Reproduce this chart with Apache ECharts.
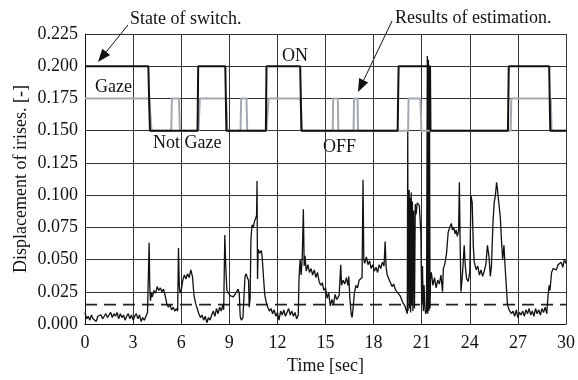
<!DOCTYPE html>
<html>
<head>
<meta charset="utf-8">
<script src="https://cdn.jsdelivr.net/npm/echarts@6/dist/echarts.min.js"></script>
<style>
html, body { margin: 0; padding: 0; background: #fff; }
#chart { width: 578px; height: 380px; }
</style>
</head>
<body>
<div id="chart"></div>
<script>
var chart = echarts.init(document.getElementById('chart'));

// state of the switch (ON = 0.200, OFF = 0.150)
var switchState = [
    [0, 0.2], [3.95, 0.2], [4.05, 0.15], [7.02, 0.15], [7.06, 0.2], [8.75, 0.2], [8.82, 0.15],
    [11.28, 0.15], [11.32, 0.2], [13.42, 0.2], [13.5, 0.15], [19.5, 0.15], [19.56, 0.2],
    [21.52, 0.2], [21.55, 0.15], [26.38, 0.15], [26.43, 0.2], [28.95, 0.2], [29.02, 0.15], [30, 0.15]
];

// results of estimation (Gaze = 0.175, Not Gaze = 0.150)
var estimation = [
    [0, 0.175], [4.0, 0.175], [4.15, 0.15], [5.38, 0.15], [5.42, 0.175], [5.86, 0.175], [5.92, 0.15],
    [7.08, 0.15], [7.16, 0.175], [8.8, 0.175], [8.88, 0.15], [9.7, 0.15], [9.74, 0.175],
    [10.07, 0.175], [10.12, 0.15], [11.32, 0.15], [11.45, 0.175], [13.45, 0.175], [13.52, 0.15],
    [15.45, 0.15], [15.48, 0.175], [15.77, 0.175], [15.8, 0.15], [16.75, 0.15], [16.78, 0.175],
    [17.0, 0.175], [17.03, 0.15], [20.15, 0.15], [20.18, 0.175], [20.92, 0.175], [20.98, 0.15],
    [26.55, 0.15], [26.59, 0.175], [29.05, 0.175], [29.1, 0.15], [30, 0.15]
];

// displacement of irises [-]
var irisDisplacement = [
    [0.0, 0.009], [0.1, 0.004], [0.2, 0.006], [0.3, 0.003], [0.4, 0.007], [0.5, 0.004], [0.6, 0.005],
    [0.7, 0.002], [0.8, 0.006], [0.9, 0.005], [1.0, 0.007], [1.1, 0.004], [1.2, 0.006], [1.3, 0.008],
    [1.4, 0.005], [1.5, 0.007], [1.6, 0.009], [1.7, 0.005], [1.8, 0.008], [1.9, 0.006], [2.0, 0.009],
    [2.1, 0.004], [2.2, 0.008], [2.3, 0.005], [2.4, 0.007], [2.5, 0.003], [2.6, 0.006], [2.7, 0.008],
    [2.8, 0.004], [2.9, 0.007], [3.0, 0.003], [3.1, 0.006], [3.2, 0.008], [3.3, 0.004], [3.4, 0.007],
    [3.5, 0.002], [3.6, 0.005], [3.7, 0.003], [3.8, 0.006], [3.9, 0.009], [3.95, 0.010],
    [4.0, 0.063], [4.04, 0.030], [4.08, 0.018], [4.15, 0.024], [4.2, 0.021], [4.3, 0.026], [4.4, 0.024],
    [4.5, 0.029], [4.6, 0.026], [4.7, 0.028], [4.8, 0.025], [4.9, 0.027], [5.0, 0.022], [5.1, 0.016],
    [5.2, 0.013], [5.3, 0.015], [5.4, 0.011], [5.5, 0.013], [5.6, 0.010], [5.7, 0.012], [5.78, 0.010],
    [5.83, 0.059], [5.88, 0.030], [5.93, 0.024], [6.0, 0.026], [6.1, 0.034], [6.2, 0.038], [6.3, 0.035],
    [6.4, 0.039], [6.5, 0.036], [6.6, 0.042], [6.7, 0.037], [6.8, 0.022], [6.9, 0.016], [7.0, 0.012],
    [7.1, 0.008], [7.2, 0.005], [7.3, 0.007], [7.4, 0.003], [7.5, 0.006], [7.6, 0.001], [7.7, 0.005],
    [7.8, 0.003], [7.9, 0.007], [8.0, 0.010], [8.1, 0.006], [8.2, 0.012], [8.3, 0.008], [8.4, 0.013],
    [8.5, 0.010], [8.6, 0.015], [8.65, 0.011], [8.72, 0.069], [8.78, 0.045], [8.85, 0.026],
    [8.95, 0.024], [9.05, 0.022], [9.15, 0.023], [9.25, 0.021], [9.35, 0.023], [9.45, 0.025],
    [9.55, 0.027], [9.62, 0.024], [9.68, 0.006], [9.75, 0.003], [9.85, 0.005], [9.93, 0.004],
    [9.98, 0.037], [10.05, 0.039], [10.12, 0.036], [10.2, 0.034], [10.24, 0.013], [10.3, 0.020],
    [10.35, 0.066], [10.42, 0.077], [10.5, 0.075], [10.58, 0.080], [10.66, 0.079], [10.7, 0.084],
    [10.73, 0.111], [10.76, 0.035], [10.8, 0.058], [10.9, 0.055], [11.0, 0.057], [11.05, 0.052],
    [11.15, 0.033], [11.22, 0.022], [11.3, 0.017], [11.4, 0.013], [11.5, 0.010], [11.6, 0.012],
    [11.7, 0.008], [11.8, 0.011], [11.9, 0.006], [12.0, 0.009], [12.1, 0.003], [12.2, 0.010],
    [12.3, 0.007], [12.4, 0.011], [12.5, 0.006], [12.6, 0.009], [12.7, 0.012], [12.8, 0.007],
    [12.9, 0.010], [13.0, 0.006], [13.1, 0.009], [13.2, 0.004], [13.3, 0.007], [13.35, 0.036],
    [13.42, 0.050], [13.48, 0.038], [13.55, 0.052], [13.62, 0.089], [13.67, 0.045], [13.72, 0.053],
    [13.8, 0.041], [13.9, 0.046], [14.0, 0.040], [14.1, 0.043], [14.2, 0.038], [14.3, 0.042],
    [14.4, 0.036], [14.5, 0.040], [14.6, 0.033], [14.7, 0.030], [14.8, 0.032], [14.9, 0.026],
    [15.0, 0.028], [15.1, 0.020], [15.2, 0.024], [15.3, 0.014], [15.4, 0.019], [15.5, 0.015],
    [15.6, 0.023], [15.7, 0.019], [15.85, 0.022], [15.95, 0.046], [16.0, 0.030], [16.1, 0.034],
    [16.2, 0.031], [16.3, 0.036], [16.4, 0.030], [16.45, 0.037], [16.52, 0.020], [16.6, 0.008],
    [16.66, 0.005], [16.72, 0.012], [16.8, 0.024], [16.9, 0.030], [17.0, 0.028], [17.1, 0.034],
    [17.2, 0.033], [17.28, 0.036], [17.34, 0.112], [17.39, 0.050], [17.45, 0.047], [17.55, 0.052],
    [17.65, 0.046], [17.75, 0.049], [17.85, 0.043], [17.95, 0.046], [18.05, 0.041], [18.15, 0.044],
    [18.25, 0.040], [18.35, 0.046], [18.45, 0.043], [18.55, 0.048], [18.65, 0.045], [18.72, 0.064],
    [18.78, 0.044], [18.85, 0.038], [18.95, 0.035], [19.05, 0.032], [19.15, 0.029], [19.25, 0.031],
    [19.35, 0.027], [19.45, 0.025], [19.55, 0.026], [19.65, 0.022], [19.75, 0.019], [19.85, 0.016],
    [19.95, 0.014], [20.05, 0.010], [20.1, 0.008], [20.13, 0.150], [20.15, 0.010], [20.18, 0.009],
    [20.22, 0.104], [20.25, 0.012], [20.28, 0.098], [20.31, 0.009], [20.35, 0.102], [20.38, 0.015],
    [20.42, 0.095], [20.45, 0.010], [20.5, 0.088], [20.55, 0.012], [20.6, 0.093], [20.65, 0.085],
    [20.72, 0.094], [20.8, 0.095], [20.85, 0.092], [20.9, 0.093], [20.95, 0.070], [21.0, 0.015],
    [21.05, 0.045], [21.1, 0.010], [21.15, 0.030], [21.2, 0.012], [21.25, 0.008], [21.3, 0.010],
    [21.35, 0.208], [21.38, 0.008], [21.42, 0.205], [21.45, 0.010], [21.48, 0.200], [21.52, 0.012],
    [21.55, 0.035], [21.6, 0.040], [21.7, 0.030], [21.8, 0.036], [21.9, 0.028], [22.0, 0.034],
    [22.1, 0.031], [22.2, 0.038], [22.3, 0.025], [22.35, 0.043], [22.45, 0.047], [22.55, 0.055],
    [22.65, 0.071], [22.75, 0.075], [22.85, 0.078], [22.92, 0.073], [23.0, 0.075], [23.08, 0.070],
    [23.15, 0.073], [23.22, 0.068], [23.3, 0.072], [23.35, 0.110], [23.4, 0.060], [23.45, 0.025],
    [23.55, 0.040], [23.65, 0.061], [23.72, 0.045], [23.8, 0.035], [23.9, 0.033], [24.0, 0.040],
    [24.07, 0.100], [24.15, 0.094], [24.22, 0.060], [24.28, 0.048], [24.4, 0.042], [24.5, 0.045],
    [24.6, 0.038], [24.7, 0.042], [24.8, 0.037], [24.9, 0.041], [25.0, 0.046], [25.1, 0.061],
    [25.2, 0.052], [25.28, 0.037], [25.35, 0.045], [25.45, 0.080], [25.52, 0.094], [25.6, 0.100],
    [25.67, 0.110], [25.73, 0.104], [25.8, 0.095], [25.9, 0.083], [25.98, 0.064], [26.05, 0.050],
    [26.13, 0.061], [26.2, 0.045], [26.3, 0.025], [26.35, 0.015], [26.45, 0.011], [26.5, 0.012],
    [26.6, 0.008], [26.7, 0.010], [26.8, 0.006], [26.9, 0.011], [27.0, 0.005], [27.1, 0.009],
    [27.2, 0.007], [27.3, 0.010], [27.4, 0.006], [27.5, 0.011], [27.6, 0.008], [27.7, 0.012],
    [27.8, 0.007], [27.9, 0.010], [28.0, 0.006], [28.1, 0.012], [28.2, 0.008], [28.3, 0.011],
    [28.4, 0.007], [28.5, 0.012], [28.6, 0.009], [28.7, 0.013], [28.8, 0.008], [28.88, 0.022],
    [28.95, 0.030], [29.0, 0.026], [29.1, 0.040], [29.2, 0.043], [29.3, 0.044], [29.4, 0.042],
    [29.5, 0.046], [29.6, 0.045], [29.7, 0.048], [29.8, 0.044], [29.9, 0.050], [30.0, 0.047]
];

// threshold (dashed)
var threshold = [[0, 0.015], [30, 0.015]];

var serif = '"Liberation Serif", "Times New Roman", serif';

// arrow with filled head, from (x1,y1) to tip (x2,y2)
function arrow(x1, y1, x2, y2) {
    var dx = x2 - x1, dy = y2 - y1;
    var len = Math.sqrt(dx * dx + dy * dy);
    var ux = dx / len, uy = dy / len;
    var bx = x2 - ux * 13, by = y2 - uy * 13;
    var px = -uy * 5, py = ux * 5;
    return [
        {
            type: 'line',
            shape: { x1: x1, y1: y1, x2: bx, y2: by },
            style: { stroke: '#111', lineWidth: 1 }
        },
        {
            type: 'polygon',
            shape: { points: [[x2, y2], [bx + px, by + py], [bx - px, by - py]] },
            style: { fill: '#111' }
        }
    ];
}

function label(text, x, y, align) {
    return {
        type: 'text',
        x: x,
        y: y,
        style: {
            text: text,
            font: '18px ' + serif,
            fill: '#111',
            align: align || 'left',
            verticalAlign: 'middle'
        }
    };
}

var graphics = []
    .concat(arrow(128, 25, 98, 62))
    .concat(arrow(392, 21, 358, 92))
    .concat([
        label('State of switch.', 130, 19),
        label('Results of estimation.', 395, 18),
        label('Gaze', 95, 87),
        label('Not Gaze', 153, 143),
        label('ON', 282, 56),
        label('OFF', 323, 147)
    ]);

var option = {
    animation: false,
    backgroundColor: '#fff',
    grid: { left: 85, right: 7, top: 34, bottom: 54 },
    xAxis: {
        type: 'value',
        min: 0,
        max: 30,
        interval: 3,
        name: 'Time [sec]',
        nameLocation: 'middle',
        nameGap: 33,
        nameTextStyle: { fontFamily: serif, fontSize: 18, color: '#111' },
        axisLine: { show: true, lineStyle: { color: '#111', width: 1 } },
        axisTick: { show: false },
        axisLabel: { fontFamily: serif, fontSize: 18, color: '#111', margin: 10 },
        splitLine: { show: true, lineStyle: { color: '#333', width: 1 } }
    },
    yAxis: {
        type: 'value',
        min: 0,
        max: 0.225,
        interval: 0.025,
        name: 'Displacement of irises. [-]',
        nameLocation: 'middle',
        nameGap: 55,
        nameMoveOverlap: false,
        nameRotate: 90,
        nameTextStyle: { fontFamily: serif, fontSize: 18, color: '#111' },
        axisLine: { show: true, lineStyle: { color: '#111', width: 1 } },
        axisTick: { show: false },
        axisLabel: {
            fontFamily: serif, fontSize: 18, color: '#111', margin: 7,
            formatter: function (v) { return v.toFixed(3); }
        },
        splitLine: { show: true, lineStyle: { color: '#333', width: 1 } }
    },
    series: [
        {
            name: 'Threshold',
            type: 'line',
            data: threshold,
            showSymbol: false,
            lineStyle: { color: '#222', width: 1.8, type: [12, 7] },
            z: 2
        },
        {
            name: 'Displacement',
            type: 'line',
            data: irisDisplacement,
            showSymbol: false,
            lineStyle: { color: '#111', width: 1.3 },
            z: 3
        },
        {
            name: 'Estimation',
            type: 'line',
            data: estimation,
            showSymbol: false,
            lineStyle: { color: '#a3a9b0', width: 2 },
            z: 4
        },
        {
            name: 'Switch',
            type: 'line',
            data: switchState,
            showSymbol: false,
            lineStyle: { color: '#111', width: 2 },
            z: 5
        }
    ],
    graphic: graphics
};

chart.setOption(option);
</script>
</body>
</html>
